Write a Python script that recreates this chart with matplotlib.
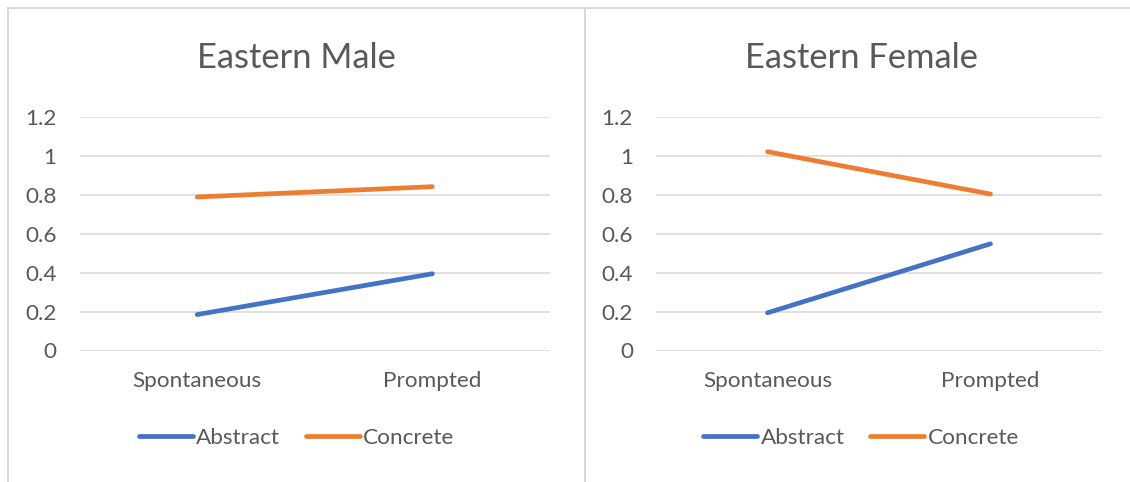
import matplotlib
matplotlib.use("Agg")
import matplotlib.pyplot as plt
from matplotlib.lines import Line2D
from matplotlib.patches import Rectangle

# data
conditions = ["Spontaneous", "Prompted"]
series_names = ["Abstract", "Concrete"]
male_abstract = [0.185, 0.395]
male_concrete = [0.79, 0.843]
female_abstract = [0.194, 0.549]
female_concrete = [1.023, 0.805]
yticks = [0, 0.2, 0.4, 0.6, 0.8, 1, 1.2]
ytick_labels = ["0", "0.2", "0.4", "0.6", "0.8", "1", "1.2"]

colors = ["#4472C4", "#ED7D31"]
text_col = "#595959"
grid_col = "#d9d9d9"

plt.rcParams["font.family"] = ["Lato", "DejaVu Sans"]

W, H = 1130, 482
fig = plt.figure(figsize=(W / 100, H / 100), dpi=100)

# chart area borders (light grey frame around each chart)
for x0, x1 in [(8, 585), (585, 1140)]:
    fig.add_artist(Rectangle((x0 / W, -0.1), (x1 - x0) / W, (H - 7.5) / H + 0.1,
                             transform=fig.transFigure, fill=False,
                             edgecolor=grid_col, linewidth=1.4))

panels = [
    ("Eastern Male", male_abstract, male_concrete, 79.6, 550, 296.5),
    ("Eastern Female", female_abstract, female_concrete, 656, 1102, 861),
]

fs = 16.2

for title, abstract, concrete, px0, px1, cx in panels:
    ax = fig.add_axes([px0 / W, 1 - 350.5 / H, (px1 - px0) / W, (350.5 - 117.3) / H])
    xs = range(len(conditions))
    for vals, c, name in zip([abstract, concrete], colors, series_names):
        ax.plot(xs, vals, color=c, lw=3.4, solid_capstyle="round", label=name, zorder=3)
    ax.set_xlim(-0.5, 1.5)
    ax.set_ylim(0, 1.2)
    ax.set_yticks(yticks)
    ax.set_yticklabels(ytick_labels)
    ax.set_xticks(list(xs))
    ax.set_xticklabels(conditions)
    ax.grid(axis="y", color=grid_col, lw=1.1)
    ax.set_axisbelow(True)
    for s in ax.spines.values():
        s.set_visible(False)
    ax.tick_params(length=0, labelsize=fs, labelcolor=text_col)
    ax.tick_params(axis="y", pad=16.5)
    ax.tick_params(axis="x", pad=15)

    fig.text(cx / W, 1 - 58 / H, title, ha="center", va="center",
             fontsize=24.8, color=text_col)

    handles = [Line2D([], [], color=c, lw=3.4, solid_capstyle="round") for c in colors]
    fig.legend(handles, series_names, loc="center", ncol=2, frameon=False,
               bbox_to_anchor=(cx / W, 1 - 438 / H), fontsize=fs,
               labelcolor=text_col, handlelength=2.4, handletextpad=0.15,
               columnspacing=1.15)

fig.savefig("out.png", dpi=100)
